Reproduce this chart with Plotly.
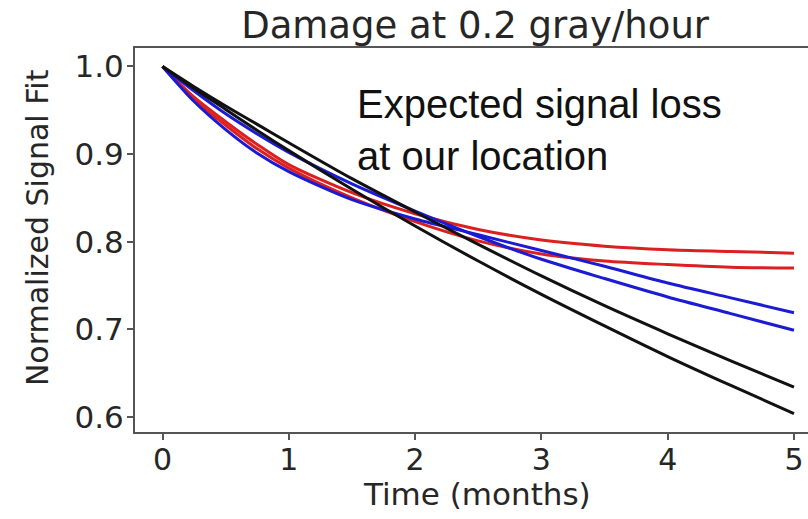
import plotly.graph_objects as go

# Time axis (months)
months = [0, 0.25, 0.5, 0.75, 1, 1.5, 2, 2.5, 3, 3.5, 4, 4.5, 5]

# Normalized signal fits for each sample
red_a = [1.0, 0.965, 0.937, 0.911, 0.888, 0.856, 0.832, 0.814, 0.802, 0.795, 0.791, 0.789, 0.787]
red_b = [1.0, 0.962, 0.933, 0.906, 0.884, 0.850, 0.823, 0.801, 0.786, 0.778, 0.774, 0.771, 0.770]
blue_a = [1.0, 0.960, 0.928, 0.901, 0.880, 0.848, 0.826, 0.808, 0.790, 0.772, 0.753, 0.736, 0.719]
blue_b = [1.0, 0.972, 0.946, 0.923, 0.902, 0.866, 0.835, 0.806, 0.780, 0.758, 0.737, 0.718, 0.699]
black_a = [1.0, 0.977, 0.955, 0.934, 0.913, 0.872, 0.834, 0.797, 0.761, 0.727, 0.695, 0.664, 0.634]
black_b = [1.0, 0.975, 0.951, 0.927, 0.904, 0.860, 0.818, 0.778, 0.740, 0.704, 0.669, 0.636, 0.604]

y_ticks = [0.6, 0.7, 0.8, 0.9, 1.0]
x_ticks = [0, 1, 2, 3, 4, 5]

series = [
    (red_a, "#dc1f1f"),
    (red_b, "#dc1f1f"),
    (blue_a, "#1b1bd4"),
    (blue_b, "#1b1bd4"),
    (black_a, "#111111"),
    (black_b, "#111111"),
]

fig = go.Figure()
for vals, color in series:
    fig.add_trace(go.Scatter(
        x=months, y=vals, mode="lines",
        line=dict(color=color, width=3, shape="spline", smoothing=0.8),
        showlegend=False, hoverinfo="skip",
    ))

axis_color = "#555555"
text_color = "#262626"

fig.update_layout(
    width=808, height=519,
    margin=dict(l=135, r=0, t=48, b=87),
    paper_bgcolor="white", plot_bgcolor="white",
    font=dict(family="DejaVu Sans", color=text_color),
    title=dict(text="Damage at 0.2 gray/hour", x=0.588, y=0.952,
               xanchor="center", yanchor="middle",
               font=dict(size=37, family="DejaVu Sans", color=text_color)),
    xaxis=dict(range=[-0.218, 5.111], tickvals=x_ticks,
               ticks="outside", ticklen=6, tickwidth=1.5, tickcolor=axis_color,
               ticklabelstandoff=-6,
               showline=True, linecolor=axis_color, linewidth=2, mirror=True,
               showgrid=False, zeroline=False,
               tickfont=dict(size=30, color=text_color)),
    yaxis=dict(range=[0.5829, 1.0211], tickvals=y_ticks, tickformat=".1f",
               ticks="outside", ticklen=6, tickwidth=1.5, tickcolor=axis_color,
               ticklabelstandoff=-3,
               showline=True, linecolor=axis_color, linewidth=2,
               showgrid=False, zeroline=False,
               tickfont=dict(size=31, color=text_color)),
    annotations=[
        dict(text="Normalized Signal Fit", textangle=-90,
             xref="paper", yref="paper", x=-0.1456, y=0.531,
             xanchor="center", yanchor="middle", showarrow=False,
             font=dict(size=30, color=text_color)),
        dict(text="Time (months)",
             xref="paper", yref="paper", x=0.508, y=-0.162,
             xanchor="center", yanchor="middle", showarrow=False,
             font=dict(size=31, color=text_color)),
        dict(text="Expected signal loss<br>at our location", align="left",
             xref="paper", yref="paper", x=0.327, y=0.786,
             xanchor="left", yanchor="middle", showarrow=False,
             font=dict(size=40, family="Liberation Sans", color="#111111")),
    ],
)

fig.write_html("out.html")
